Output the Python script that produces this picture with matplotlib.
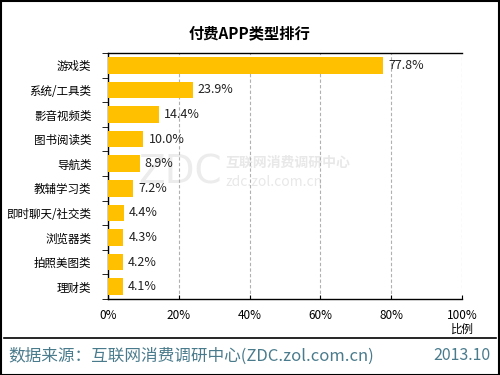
import matplotlib.pyplot as plt
from matplotlib.patches import Rectangle
from matplotlib.lines import Line2D
import numpy as np

plt.rcParams['font.family'] = ['Noto Sans CJK SC', 'DejaVu Sans']

# data
categories = ["游戏类", "系统/工具类", "影音视频类", "图书阅读类", "导航类",
              "教辅学习类", "即时聊天/社交类", "浏览器类", "拍照美图类", "理财类"]
values = [77.8, 23.9, 14.4, 10.0, 8.9, 7.2, 4.4, 4.3, 4.2, 4.1]
xticks = [0, 20, 40, 60, 80, 100]

fig = plt.figure(figsize=(5, 3.75), dpi=100)
ax = fig.add_axes([108 / 500, 1 - 299 / 375, 354 / 500, 246 / 375])

y = np.arange(len(categories))
ax.barh(y, values, height=0.68, color="#FFC000", zorder=3)
for yi, v in zip(y, values):
    ax.text(v + 1.5, yi, "%.1f%%" % v, va="center", ha="left", fontsize=9,
            color="#222222", zorder=4)

ax.set_xlim(0, 100)
ax.set_ylim(len(categories) - 0.5, -0.5)
ax.set_yticks(y)
ax.set_yticklabels(categories, fontsize=8.3)
ax.tick_params(axis="y", length=0, pad=12)
ax.set_yticks(np.arange(len(categories) + 1) - 0.5, minor=True)
ax.tick_params(axis="y", which="minor", length=4, direction="out")
ax.set_xticks(xticks)
ax.set_xticklabels(["%d%%" % t for t in xticks], fontsize=8.5)
ax.tick_params(axis="x", direction="in", length=3, pad=7)
ax.grid(axis="x", linestyle=(0, (3, 2)), color="#b0b0b0", linewidth=0.8, zorder=0)
ax.spines["right"].set_visible(False)
for s in ["left", "top", "bottom"]:
    ax.spines[s].set_linewidth(1.0)
ax.text(100, -0.095, "比例", transform=ax.get_xaxis_transform(), ha="center",
        va="top", fontsize=8.3)

# watermark, drawn under the bars and labels
ax.text(222 / 500, 1 - 172 / 375, "ZDC", fontsize=28, color="#ececec", ha="right",
        va="center", fontfamily="DejaVu Sans", zorder=1, transform=fig.transFigure)
ax.text(225 / 500, 1 - 163 / 375, "互联网消费调研中心", fontsize=10, color="#e8e8e8",
        ha="left", va="center", fontweight="bold", zorder=1, transform=fig.transFigure)
ax.text(225 / 500, 1 - 182 / 375, "zdc.zol.com.cn", fontsize=10, color="#e8e8e8",
        ha="left", va="center", zorder=1, transform=fig.transFigure)

fig.text(0.5, 1 - 33 / 375, "付费APP类型排行", ha="center", va="center",
         fontsize=11, fontweight="bold")

# footer and border
fig.add_artist(Line2D([4 / 500, 496 / 500], [1 - 338 / 375] * 2, color="black",
                      linewidth=1.2, transform=fig.transFigure))
fig.text(8 / 500, 1 - 356 / 375, "数据来源：互联网消费调研中心(ZDC.zol.com.cn)",
         ha="left", va="center", fontsize=12, color="#4a7b8c")
fig.text(490 / 500, 1 - 356 / 375, "2013.10", ha="right", va="center",
         fontsize=11.5, color="#4a7b8c")
fig.add_artist(Rectangle((0.001, 0.001), 0.997, 0.997, fill=False, edgecolor="black",
                         linewidth=1.5, transform=fig.transFigure))

fig.savefig("out.png", dpi=100)
